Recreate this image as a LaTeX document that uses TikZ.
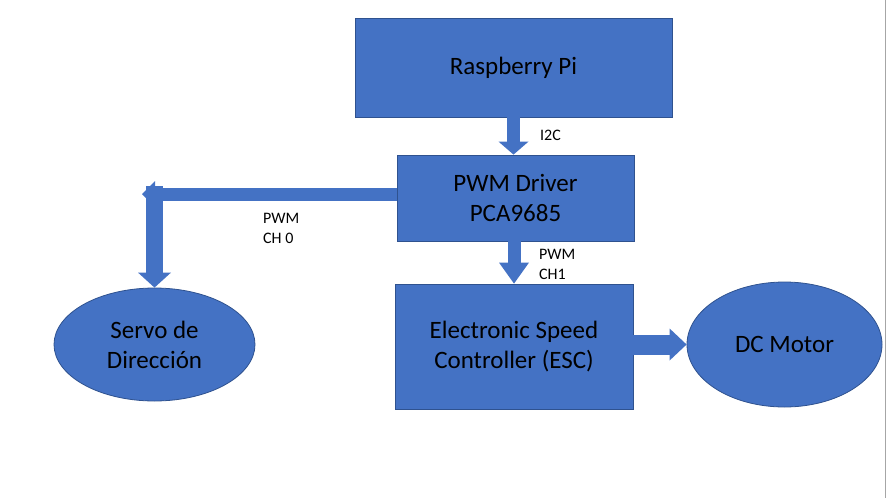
\documentclass[tikz,border=0pt]{standalone}
\usepackage{fontspec}
\setmainfont{Carlito}
\usetikzlibrary{arrows.meta,calc,shapes.geometric}
\definecolor{slideblue}{HTML}{4472C4}
\definecolor{slideedge}{HTML}{2F528F}
\tikzset{
  block/.style={draw=slideedge, fill=slideblue, line width=0.8pt, inner sep=0pt,
    align=center, font=\fontsize{25}{30}\selectfont},
  blob/.style={block, ellipse},
  tag/.style={anchor=west, inner sep=0pt, align=left, font=\fontsize{16}{20}\selectfont},
  fat/.style={draw=slideblue, line width=#1}
}

\begin{document}
\begin{tikzpicture}[x=1pt,y=-1pt]
     \useasboundingbox (0,0) rectangle (886,498);
     \draw[gray!70, line width=0.8pt] (885,0) -- (885,498);

     \node[block, minimum width=317pt, minimum height=99pt] (rpi) at (513.5, 67.5) {Raspberry Pi};
     \node[block, minimum width=237pt, minimum height=86pt] (pwm) at (515.5, 198) {PWM Driver\\PCA9685};
     \node[block, minimum width=238pt, minimum height=125pt] (esc) at (514, 346.5) {Electronic Speed\\Controller (ESC)};
     \node[blob, minimum width=195pt, minimum height=125pt] (motor) at (784.5, 344.5) {DC Motor};
     \node[blob, minimum width=201pt, minimum height=113pt] (servo) at (154.5, 344.5) {Servo de\\Dirección};

     % block arrows
     \draw[fat=13pt, -{Triangle[width=30pt, length=13pt, line width=0pt, fill=slideblue]}] (rpi.south) -- (rpi.south |- pwm.north);
     \draw[fat=13pt, -{Triangle[width=30pt, length=21pt, line width=0pt, fill=slideblue]}] (esc.north |- pwm.south) -- (esc.north);
     \draw[fat=20pt, -{Triangle[width=32pt, length=17pt, line width=0pt, fill=slideblue]}] (esc.east |- motor.west) -- (motor.west);

     \coordinate (bend) at (142, 194);
     \coordinate (corner) at (154.5, 186);
     \draw[fat=13pt, -{Triangle[width=26pt, length=13pt, line width=0pt, fill=slideblue]}] ($(pwm.west)+(0,-4)$) -- (bend);
     \draw[fat=17pt, -{Triangle[width=33pt, length=15pt, line width=0pt, fill=slideblue]}] (corner) -- (servo.north);

     \node[tag] (i2c) at (540, 135) {I2C};
     \node[tag] (ch1) at (539, 264) {PWM\\CH1};
     \node[tag] (ch0) at (263, 228) {PWM\\CH 0};
\end{tikzpicture}
\end{document}
